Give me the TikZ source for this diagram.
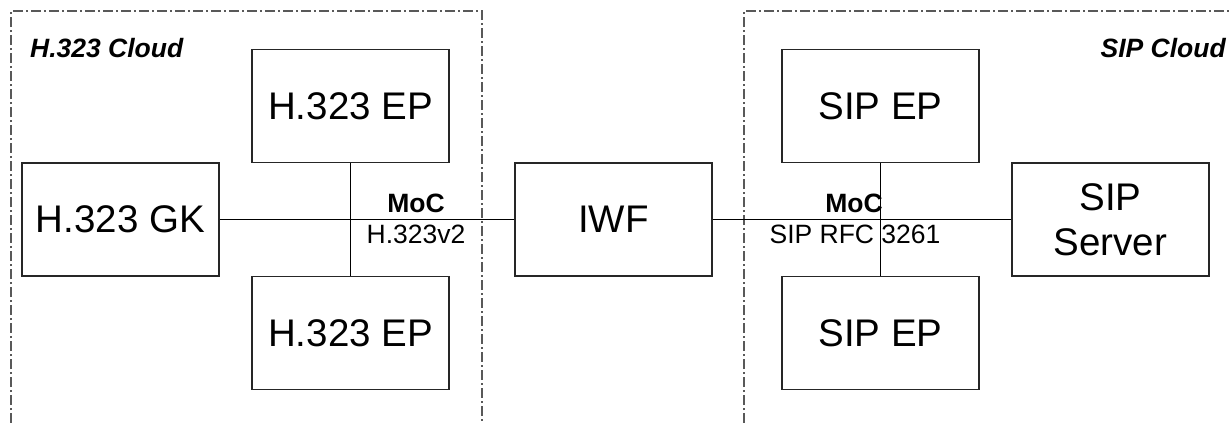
\documentclass[tikz,border=0pt]{standalone}
\usepackage{fontspec}
\setmainfont{Liberation Sans}
\begin{document}
\begin{tikzpicture}[x=1pt,y=-1pt,
  box/.style={draw=black!85,line width=1.3pt,minimum width=197pt,minimum height=113pt,
    inner sep=0pt,align=center,font=\fontsize{38.5}{45}\selectfont},
  cloud/.style={draw=black!65,line width=1.2pt,dash pattern=on 10pt off 3pt on 2pt off 3pt},
  link/.style={draw=black,line width=1.1pt},
  lbl/.style={font=\fontsize{26.5}{31}\selectfont,inner sep=0pt,anchor=base},
  bl/.style={lbl,font=\fontsize{26.5}{31}\selectfont\bfseries},
  ttl/.style={font=\fontsize{26.5}{31}\selectfont\bfseries\itshape,inner sep=0pt}]
\useasboundingbox (0,0) rectangle (1229,423);
% cloud boundaries
\draw[cloud] (11,423) -- (11,11) -- (482,11) -- (482,423);
\draw[cloud] (744,423) -- (744,11) -- (1235,11);
\node[ttl,anchor=base west] (t1) at (30,57) {H.323 Cloud};
\node[ttl,anchor=base east] (t2) at (1226,57) {SIP Cloud};
% H.323 side
\node[box] (ep1) at (350.5,106) {H.323 EP};
\node[box] (gk) at (120.5,219.5) {H.323 GK};
\node[box] (ep2) at (350.5,333) {H.323 EP};
\node[box] (iwf) at (613.5,219.5) {IWF};
% SIP side
\node[box] (sep1) at (880.5,106) {SIP EP};
\node[box] (srv) at (1110.5,219.5) {SIP\\Server};
\node[box] (sep2) at (880.5,333) {SIP EP};
% connectors
\draw[link] (gk.east) -- (iwf.west);
\draw[link] (ep1.south) -- (ep2.north);
\draw[link] (iwf.east) -- (srv.west);
\draw[link] (sep1.south) -- (sep2.north);
% labels
\node[bl] (m1) at (416,212) {MoC};
\node[lbl] (p1) at (416,243) {H.323v2};
\node[bl] (m2) at (854,212) {MoC};
\node[lbl] (p2) at (855,243) {SIP RFC 3261};
\end{tikzpicture}
\end{document}
